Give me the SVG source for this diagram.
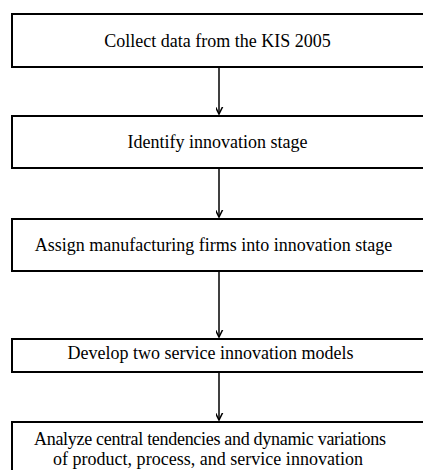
<svg xmlns="http://www.w3.org/2000/svg" width="423" height="470" viewBox="0 0 423 470">
<style>
.box{fill:#fff;stroke:#000;stroke-width:2}
.lbl{font-family:"Liberation Serif","Times New Roman",serif;font-size:18px;fill:#000;text-anchor:middle}
.con{stroke:#000;stroke-width:1.5;fill:none}
</style>
<defs>
<marker id="arr" markerUnits="userSpaceOnUse" markerWidth="14" markerHeight="14" viewBox="-7 -11 14 14" refX="0" refY="0" orient="auto-start-reverse">
<path d="M-5,-10 L0,0 L5,-10" fill="none" stroke="#000" stroke-width="1.5" transform="rotate(-90)"/>
</marker>
</defs>
<rect width="423" height="470" fill="#fff"/>
<g id="n1"><rect class="box" x="12" y="14" width="420" height="53"/><text class="lbl" x="217.5" y="47">Collect data from the KIS 2005</text></g>
<g id="n2"><rect class="box" x="12" y="116" width="420" height="52"/><text class="lbl" x="217.5" y="148">Identify innovation stage</text></g>
<g id="n3"><rect class="box" x="12" y="219" width="420" height="52"/><text class="lbl" x="213.5" y="251">Assign manufacturing firms into innovation stage</text></g>
<g id="n4"><rect class="box" x="12" y="339" width="420" height="33"/><text class="lbl" x="210.5" y="359">Develop two service innovation models</text></g>
<g id="n5"><rect class="box" x="12" y="422" width="420" height="60"/><text class="lbl" x="210" y="445" textLength="352">Analyze central tendencies and dynamic variations</text><text class="lbl" x="208" y="465" textLength="310">of product, process, and service innovation</text></g>
<g id="connectors">
<line class="con" x1="219" y1="68" x2="219" y2="114" marker-end="url(#arr)"/>
<line class="con" x1="219" y1="169" x2="219" y2="217" marker-end="url(#arr)"/>
<line class="con" x1="219" y1="272" x2="219" y2="337" marker-end="url(#arr)"/>
<line class="con" x1="219" y1="373" x2="219" y2="420" marker-end="url(#arr)"/>
</g>
</svg>
